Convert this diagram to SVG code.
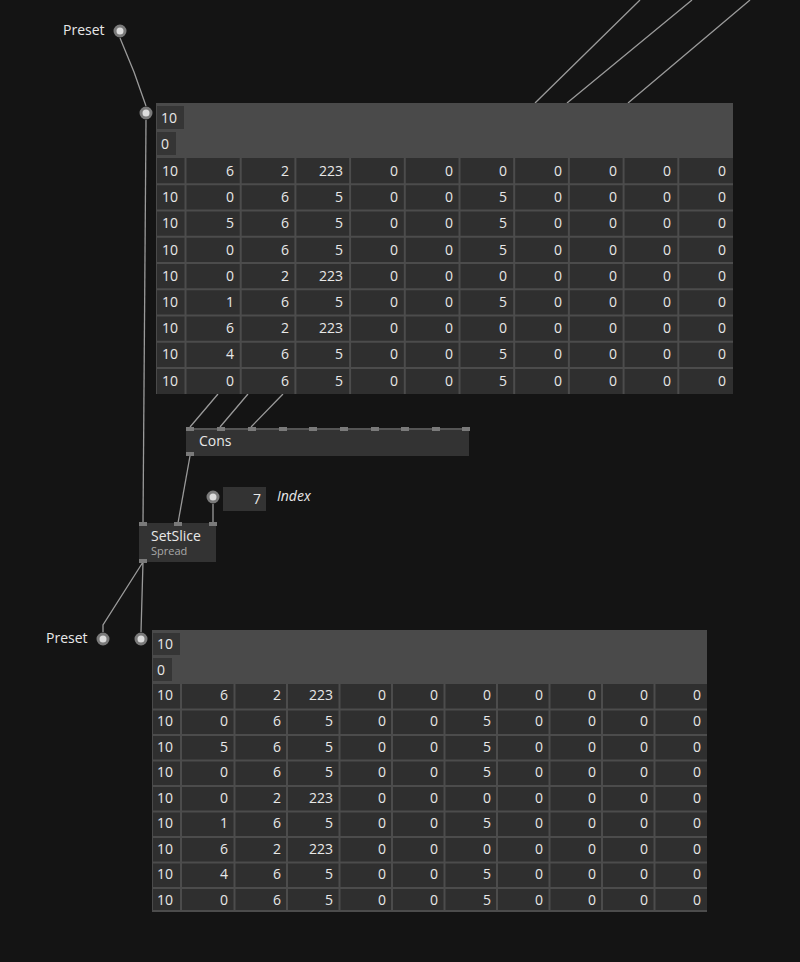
<svg xmlns="http://www.w3.org/2000/svg" width="800" height="962" viewBox="0 0 800 962">
<style>
text{font-family:"Open Sans","DejaVu Sans",sans-serif;fill:#e8e8e8;font-size:14px}
.n{text-anchor:end}
.c{fill:#2f2f2f;stroke:#4c4c4c;stroke-width:1}
.ic{fill:#353535}
.hd{fill:#4a4a4a}
.w{stroke:#9a9a9a;stroke-width:1.3;fill:none}
.pin{fill:#7a7a7a}
.io{fill:#dcdcdc;stroke:#7a7a7a;stroke-width:3}
.sub{fill:#a8a8a8;font-size:11px}
</style>
<rect width="800" height="962" fill="#141414"/>
<g id="connectors">
<path class="w" d="M640 0L535 103M692 0L567 103M750 0L628 103"/>
<path class="w" d="M120 38L134 72L146 106"/>
<path class="w" d="M146 120L143 523"/>
<path class="w" d="M218 394L190 427M248 394L220 427M283 394L251 427"/>
<path class="w" d="M190 456L178 523"/>
<path class="w" d="M213 504L213 523"/>
<path class="w" d="M143 562L141 632M143 562L103 625L103 632"/>
</g>
<g id="preset-top"><text x="63" y="35">Preset</text><circle class="io" cx="120" cy="31" r="5"/></g>
<g id="pin-top"><circle class="io" cx="146" cy="113" r="5"/></g>
<g id="table-top">
<rect x="156" y="103" width="577" height="291" class="hd"/>
<rect x="157" y="106" width="27" height="23" class="ic"/><text x="161" y="123">10</text>
<rect x="157" y="132" width="19" height="23" class="ic"/><text x="161" y="149">0</text>
<rect x="186" y="158" width="547" height="236" fill="#2f2f2f"/>
<rect x="157" y="158" width="28" height="236" fill="#2f2f2f"/>
<path d="M185.5 158V394M240.7 158V394M295.4 158V394M350.1 158V394M404.8 158V394M459.5 158V394M514.2 158V394M568.9 158V394M623.6 158V394M678.3 158V394M157 184.25H733M157 210.5H733M157 236.75H733M157 263H733M157 289.25H733M157 315.5H733M157 341.75H733M157 368H733" stroke="#4c4c4c" stroke-width="2"/>
<g><text x="162" y="176">10</text><text x="162" y="202">10</text><text x="162" y="228">10</text><text x="162" y="255">10</text><text x="162" y="281">10</text><text x="162" y="307">10</text><text x="162" y="333">10</text><text x="162" y="359">10</text><text x="162" y="386">10</text></g>
<g class="n">
<g transform="translate(0,176)"><text x="234" y="0">6</text><text x="289" y="0">2</text><text x="343" y="0">223</text><text x="398" y="0">0</text><text x="453" y="0">0</text><text x="507" y="0">0</text><text x="562" y="0">0</text><text x="617" y="0">0</text><text x="671" y="0">0</text><text x="726" y="0">0</text></g>
<g transform="translate(0,202)"><text x="234" y="0">0</text><text x="289" y="0">6</text><text x="343" y="0">5</text><text x="398" y="0">0</text><text x="453" y="0">0</text><text x="507" y="0">5</text><text x="562" y="0">0</text><text x="617" y="0">0</text><text x="671" y="0">0</text><text x="726" y="0">0</text></g>
<g transform="translate(0,228)"><text x="234" y="0">5</text><text x="289" y="0">6</text><text x="343" y="0">5</text><text x="398" y="0">0</text><text x="453" y="0">0</text><text x="507" y="0">5</text><text x="562" y="0">0</text><text x="617" y="0">0</text><text x="671" y="0">0</text><text x="726" y="0">0</text></g>
<g transform="translate(0,255)"><text x="234" y="0">0</text><text x="289" y="0">6</text><text x="343" y="0">5</text><text x="398" y="0">0</text><text x="453" y="0">0</text><text x="507" y="0">5</text><text x="562" y="0">0</text><text x="617" y="0">0</text><text x="671" y="0">0</text><text x="726" y="0">0</text></g>
<g transform="translate(0,281)"><text x="234" y="0">0</text><text x="289" y="0">2</text><text x="343" y="0">223</text><text x="398" y="0">0</text><text x="453" y="0">0</text><text x="507" y="0">0</text><text x="562" y="0">0</text><text x="617" y="0">0</text><text x="671" y="0">0</text><text x="726" y="0">0</text></g>
<g transform="translate(0,307)"><text x="234" y="0">1</text><text x="289" y="0">6</text><text x="343" y="0">5</text><text x="398" y="0">0</text><text x="453" y="0">0</text><text x="507" y="0">5</text><text x="562" y="0">0</text><text x="617" y="0">0</text><text x="671" y="0">0</text><text x="726" y="0">0</text></g>
<g transform="translate(0,333)"><text x="234" y="0">6</text><text x="289" y="0">2</text><text x="343" y="0">223</text><text x="398" y="0">0</text><text x="453" y="0">0</text><text x="507" y="0">0</text><text x="562" y="0">0</text><text x="617" y="0">0</text><text x="671" y="0">0</text><text x="726" y="0">0</text></g>
<g transform="translate(0,359)"><text x="234" y="0">4</text><text x="289" y="0">6</text><text x="343" y="0">5</text><text x="398" y="0">0</text><text x="453" y="0">0</text><text x="507" y="0">5</text><text x="562" y="0">0</text><text x="617" y="0">0</text><text x="671" y="0">0</text><text x="726" y="0">0</text></g>
<g transform="translate(0,386)"><text x="234" y="0">0</text><text x="289" y="0">6</text><text x="343" y="0">5</text><text x="398" y="0">0</text><text x="453" y="0">0</text><text x="507" y="0">5</text><text x="562" y="0">0</text><text x="617" y="0">0</text><text x="671" y="0">0</text><text x="726" y="0">0</text></g>
</g>
</g>
<g id="cons">
<rect x="186" y="428" width="283" height="28" fill="#333"/>
<rect x="186" y="428" width="283" height="2" fill="#555"/>
<g class="pin"><rect x="186" y="427" width="8" height="4"/><rect x="217" y="427" width="8" height="4"/><rect x="248" y="427" width="8" height="4"/><rect x="279" y="427" width="8" height="4"/><rect x="309" y="427" width="8" height="4"/><rect x="340" y="427" width="8" height="4"/><rect x="371" y="427" width="8" height="4"/><rect x="401" y="427" width="8" height="4"/><rect x="432" y="427" width="8" height="4"/><rect x="462" y="427" width="8" height="4"/><rect x="186" y="452" width="8" height="4"/></g>
<text x="199" y="446">Cons</text>
</g>
<g id="index">
<circle class="io" cx="213" cy="497" r="5"/>
<rect x="223" y="487" width="43" height="24" fill="#333"/>
<text class="n" x="261" y="504">7</text>
<text x="277" y="501" font-style="italic">Index</text>
</g>
<g id="setslice">
<rect x="139" y="523" width="77" height="39" fill="#333"/>
<g class="pin"><rect x="139" y="522" width="8" height="4"/><rect x="174" y="522" width="8" height="4"/><rect x="209" y="522" width="8" height="4"/><rect x="139" y="559" width="8" height="4"/></g>
<text x="151" y="541">SetSlice</text>
<text class="sub" x="151" y="555">Spread</text>
</g>
<g id="preset-bottom"><text x="46" y="643">Preset</text><circle class="io" cx="103" cy="639" r="5"/><circle class="io" cx="141" cy="639" r="5"/></g>
<g id="table-bottom">
<rect x="152" y="630" width="555" height="282" class="hd"/>
<rect x="153" y="633" width="27" height="22" class="ic"/><text x="157" y="649">10</text>
<rect x="153" y="658" width="19" height="23" class="ic"/><text x="157" y="675">0</text>
<rect x="153" y="684" width="554" height="228" fill="#2f2f2f"/>
<path d="M181 684V912M234.5 684V912M287 684V912M339.5 684V912M392 684V912M444.5 684V912M497 684V912M549.5 684V912M602 684V912M654.5 684V912M153 709.5H707M153 735H707M153 760.5H707M153 786H707M153 811.5H707M153 837H707M153 862.5H707M153 888H707M152 911H707" stroke="#4c4c4c" stroke-width="2"/>
<g><text x="157" y="700">10</text><text x="157" y="726">10</text><text x="157" y="752">10</text><text x="157" y="777">10</text><text x="157" y="803">10</text><text x="157" y="828">10</text><text x="157" y="854">10</text><text x="157" y="879">10</text><text x="157" y="905">10</text></g>
<g class="n">
<g transform="translate(0,700)"><text x="228" y="0">6</text><text x="281" y="0">2</text><text x="333" y="0">223</text><text x="386" y="0">0</text><text x="438" y="0">0</text><text x="491" y="0">0</text><text x="543" y="0">0</text><text x="596" y="0">0</text><text x="648" y="0">0</text><text x="701" y="0">0</text></g>
<g transform="translate(0,726)"><text x="228" y="0">0</text><text x="281" y="0">6</text><text x="333" y="0">5</text><text x="386" y="0">0</text><text x="438" y="0">0</text><text x="491" y="0">5</text><text x="543" y="0">0</text><text x="596" y="0">0</text><text x="648" y="0">0</text><text x="701" y="0">0</text></g>
<g transform="translate(0,752)"><text x="228" y="0">5</text><text x="281" y="0">6</text><text x="333" y="0">5</text><text x="386" y="0">0</text><text x="438" y="0">0</text><text x="491" y="0">5</text><text x="543" y="0">0</text><text x="596" y="0">0</text><text x="648" y="0">0</text><text x="701" y="0">0</text></g>
<g transform="translate(0,777)"><text x="228" y="0">0</text><text x="281" y="0">6</text><text x="333" y="0">5</text><text x="386" y="0">0</text><text x="438" y="0">0</text><text x="491" y="0">5</text><text x="543" y="0">0</text><text x="596" y="0">0</text><text x="648" y="0">0</text><text x="701" y="0">0</text></g>
<g transform="translate(0,803)"><text x="228" y="0">0</text><text x="281" y="0">2</text><text x="333" y="0">223</text><text x="386" y="0">0</text><text x="438" y="0">0</text><text x="491" y="0">0</text><text x="543" y="0">0</text><text x="596" y="0">0</text><text x="648" y="0">0</text><text x="701" y="0">0</text></g>
<g transform="translate(0,828)"><text x="228" y="0">1</text><text x="281" y="0">6</text><text x="333" y="0">5</text><text x="386" y="0">0</text><text x="438" y="0">0</text><text x="491" y="0">5</text><text x="543" y="0">0</text><text x="596" y="0">0</text><text x="648" y="0">0</text><text x="701" y="0">0</text></g>
<g transform="translate(0,854)"><text x="228" y="0">6</text><text x="281" y="0">2</text><text x="333" y="0">223</text><text x="386" y="0">0</text><text x="438" y="0">0</text><text x="491" y="0">0</text><text x="543" y="0">0</text><text x="596" y="0">0</text><text x="648" y="0">0</text><text x="701" y="0">0</text></g>
<g transform="translate(0,879)"><text x="228" y="0">4</text><text x="281" y="0">6</text><text x="333" y="0">5</text><text x="386" y="0">0</text><text x="438" y="0">0</text><text x="491" y="0">5</text><text x="543" y="0">0</text><text x="596" y="0">0</text><text x="648" y="0">0</text><text x="701" y="0">0</text></g>
<g transform="translate(0,905)"><text x="228" y="0">0</text><text x="281" y="0">6</text><text x="333" y="0">5</text><text x="386" y="0">0</text><text x="438" y="0">0</text><text x="491" y="0">5</text><text x="543" y="0">0</text><text x="596" y="0">0</text><text x="648" y="0">0</text><text x="701" y="0">0</text></g>
</g>
</g>
</svg>
